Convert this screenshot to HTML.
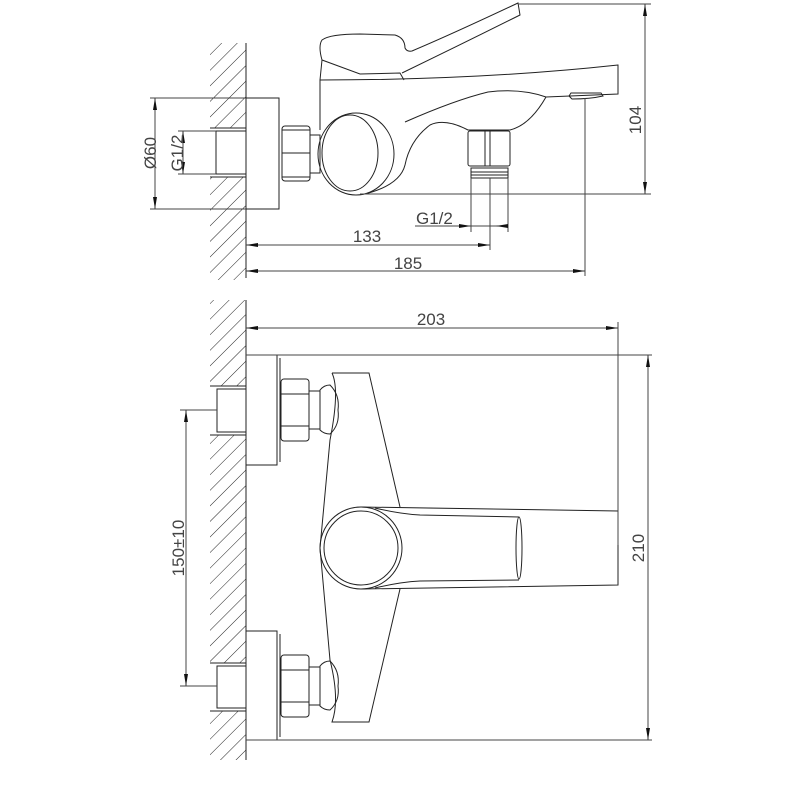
<!DOCTYPE html>
<html><head><meta charset="utf-8"><style>
html,body{margin:0;padding:0;background:#fff;}
svg{display:block;}
text{font-family:"Liberation Sans",sans-serif;font-size:17px;fill:#444;}
</style></head><body>
<svg width="800" height="800" viewBox="0 0 800 800" xmlns="http://www.w3.org/2000/svg">
<defs>
<pattern id="h" patternUnits="userSpaceOnUse" width="11" height="11" patternTransform="rotate(45)">
<line x1="0" y1="0" x2="0" y2="11" stroke="#222" stroke-width="1"/>
</pattern>
<marker id="a" viewBox="0 0 12 4" refX="12" refY="2" markerWidth="12" markerHeight="4" orient="auto" markerUnits="userSpaceOnUse">
<path d="M0,0 L12,2 L0,4z" fill="#111"/></marker>
</defs>
<g fill="none" stroke="#222" stroke-width="1">
<rect x="210" y="43" width="36" height="85" fill="url(#h)" stroke="none"/>
<rect x="210" y="177" width="36" height="103" fill="url(#h)" stroke="none"/>
<line x1="246" y1="43" x2="246" y2="278"/>
<line x1="210" y1="128" x2="246" y2="128"/><line x1="210" y1="177" x2="246" y2="177"/>
<rect x="216" y="131" width="30" height="43" fill="#fff"/>
<rect x="246" y="98" width="33" height="111"/>
<rect x="282" y="126" width="28" height="55" rx="3"/>
<line x1="282" y1="153" x2="310" y2="153"/><line x1="282" y1="130" x2="310" y2="130"/><line x1="282" y1="177" x2="310" y2="177"/>
<rect x="310" y="135" width="10" height="38"/>
<path d="M320,130 L320,80 Q480,80 618,65 L618,94 L546,97 Q520,88 488,92 Q455,100 405,122"/>
<path d="M546,97 Q530,125 510,130 L468,130 Q445,118 430,125 Q410,140 405,165 Q400,185 365,194"/>
<ellipse cx="356" cy="154" rx="38" ry="41"/>
<ellipse cx="350" cy="153" rx="28" ry="38"/>
<path d="M569,96 L571,93 L601,93 L603,96 Q590,99 572,99z"/>
<path d="M320,80 L322,60 L360,74 L400,73 L404,80"/>
<path d="M322,60 Q318,46 322,40 Q330,34 360,34 L395,35 Q405,38 405,48 Q407,52 412,51 Q450,35 518,3 L520,15 Q460,45 402,73"/>
<rect x="468" y="131" width="42" height="35" rx="2"/>
<line x1="485" y1="131" x2="485" y2="166"/><line x1="490" y1="131" x2="490" y2="166"/>
<rect x="471" y="168" width="37" height="10"/>
<line x1="471" y1="172" x2="508" y2="172"/><line x1="471" y1="175" x2="508" y2="175"/>
</g>
<g fill="none" stroke="#444" stroke-width="1">
<line x1="150" y1="98" x2="246" y2="98"/><line x1="150" y1="209" x2="246" y2="209"/>
<line x1="155" y1="153" x2="155" y2="98" marker-end="url(#a)"/><line x1="155" y1="153" x2="155" y2="209" marker-end="url(#a)"/>
<line x1="178" y1="131" x2="216" y2="131"/><line x1="178" y1="174" x2="216" y2="174"/>
<line x1="183" y1="153" x2="183" y2="131" marker-end="url(#a)"/><line x1="183" y1="153" x2="183" y2="174" marker-end="url(#a)"/>
<line x1="518" y1="4" x2="651" y2="4"/><line x1="360" y1="194" x2="651" y2="194"/>
<line x1="645" y1="100" x2="645" y2="4" marker-end="url(#a)"/><line x1="645" y1="100" x2="645" y2="194" marker-end="url(#a)"/>
<line x1="471" y1="178" x2="471" y2="232"/><line x1="490" y1="178" x2="490" y2="250"/><line x1="508" y1="178" x2="508" y2="232"/>
<line x1="415" y1="226" x2="471" y2="226" marker-end="url(#a)"/><line x1="471" y1="226" x2="508" y2="226"/>
<line x1="508" y1="226" x2="496" y2="226" marker-end="url(#a)"/>
<line x1="246" y1="245" x2="490" y2="245" marker-end="url(#a)"/><line x1="300" y1="245" x2="246" y2="245" marker-end="url(#a)"/>
<line x1="585" y1="98" x2="585" y2="276"/>
<line x1="246" y1="271" x2="585" y2="271" marker-end="url(#a)"/><line x1="300" y1="271" x2="246" y2="271" marker-end="url(#a)"/>
</g>
<text x="150" y="153" text-anchor="middle" transform="rotate(-90 150 153)" dy="6">Ø60</text>
<text x="177" y="153" text-anchor="middle" transform="rotate(-90 177 153)" dy="6">G1/2</text>
<text x="635" y="120" text-anchor="middle" transform="rotate(-90 635 120)" dy="6">104</text>
<text x="416" y="224">G1/2</text>
<text x="367" y="242" text-anchor="middle">133</text>
<text x="408" y="269" text-anchor="middle">185</text>

<g fill="none" stroke="#222" stroke-width="1">
<rect x="210" y="300" width="36" height="86" fill="url(#h)" stroke="none"/>
<rect x="210" y="435" width="36" height="228" fill="url(#h)" stroke="none"/>
<rect x="210" y="711" width="36" height="49" fill="url(#h)" stroke="none"/>
<line x1="246" y1="300" x2="246" y2="760"/>
<line x1="210" y1="386" x2="246" y2="386"/><line x1="210" y1="435" x2="246" y2="435"/>
<line x1="210" y1="663" x2="246" y2="663"/><line x1="210" y1="711" x2="246" y2="711"/>
<rect x="217" y="389" width="29" height="43" fill="#fff"/>
<rect x="217" y="666" width="29" height="42" fill="#fff"/>
<rect x="246" y="355" width="31" height="110"/><line x1="280" y1="358" x2="280" y2="462"/>
<rect x="246" y="631" width="31" height="109"/><line x1="280" y1="634" x2="280" y2="737"/>
<rect x="281" y="379" width="28" height="62" rx="3"/>
<line x1="281" y1="394" x2="309" y2="394"/><line x1="281" y1="426" x2="309" y2="426"/>
<rect x="281" y="655" width="28" height="62" rx="3"/>
<line x1="281" y1="670" x2="309" y2="670"/><line x1="281" y1="702" x2="309" y2="702"/>
<rect x="309" y="391" width="11" height="38"/>
<rect x="309" y="667" width="11" height="38"/>
<path d="M320,390 Q324,385 330,385 Q340,395 338,410 Q340,425 330,434 Q324,434 320,430z"/>
<path d="M320,666 Q324,661 330,661 Q340,671 338,686 Q340,701 330,710 Q324,710 320,706z"/>
<path d="M332,373 L369,373 L400,507"/>
<path d="M332,373 Q340,390 330,440 L320,548 L330,660 Q340,700 332,722 L369,722 L400,589"/>
<circle cx="361" cy="548" r="41"/>
<circle cx="361" cy="548" r="37"/>
<path d="M361,507 L618,511 L618,585 L361,589"/>
<path d="M375,508 Q400,514 420,515 L519,517"/>
<path d="M375,588 Q400,582 420,581 L519,580"/>
<ellipse cx="519" cy="548" rx="3" ry="31"/>
</g>
<g fill="none" stroke="#444" stroke-width="1">
<line x1="246" y1="355" x2="652" y2="355"/><line x1="246" y1="740" x2="652" y2="740"/>
<line x1="618" y1="322" x2="618" y2="545"/>
<line x1="430" y1="328" x2="618" y2="328" marker-end="url(#a)"/><line x1="430" y1="328" x2="246" y2="328" marker-end="url(#a)"/>
<line x1="648" y1="548" x2="648" y2="355" marker-end="url(#a)"/><line x1="648" y1="548" x2="648" y2="740" marker-end="url(#a)"/>
<line x1="180" y1="410" x2="217" y2="410"/><line x1="180" y1="686" x2="217" y2="686"/>
<line x1="186" y1="548" x2="186" y2="410" marker-end="url(#a)"/><line x1="186" y1="548" x2="186" y2="686" marker-end="url(#a)"/>
</g>
<text x="431" y="325" text-anchor="middle">203</text>
<text x="638" y="548" text-anchor="middle" transform="rotate(-90 638 548)" dy="6">210</text>
<text x="178" y="548" text-anchor="middle" transform="rotate(-90 178 548)" dy="6">150±10</text>
</svg>
</body></html>
